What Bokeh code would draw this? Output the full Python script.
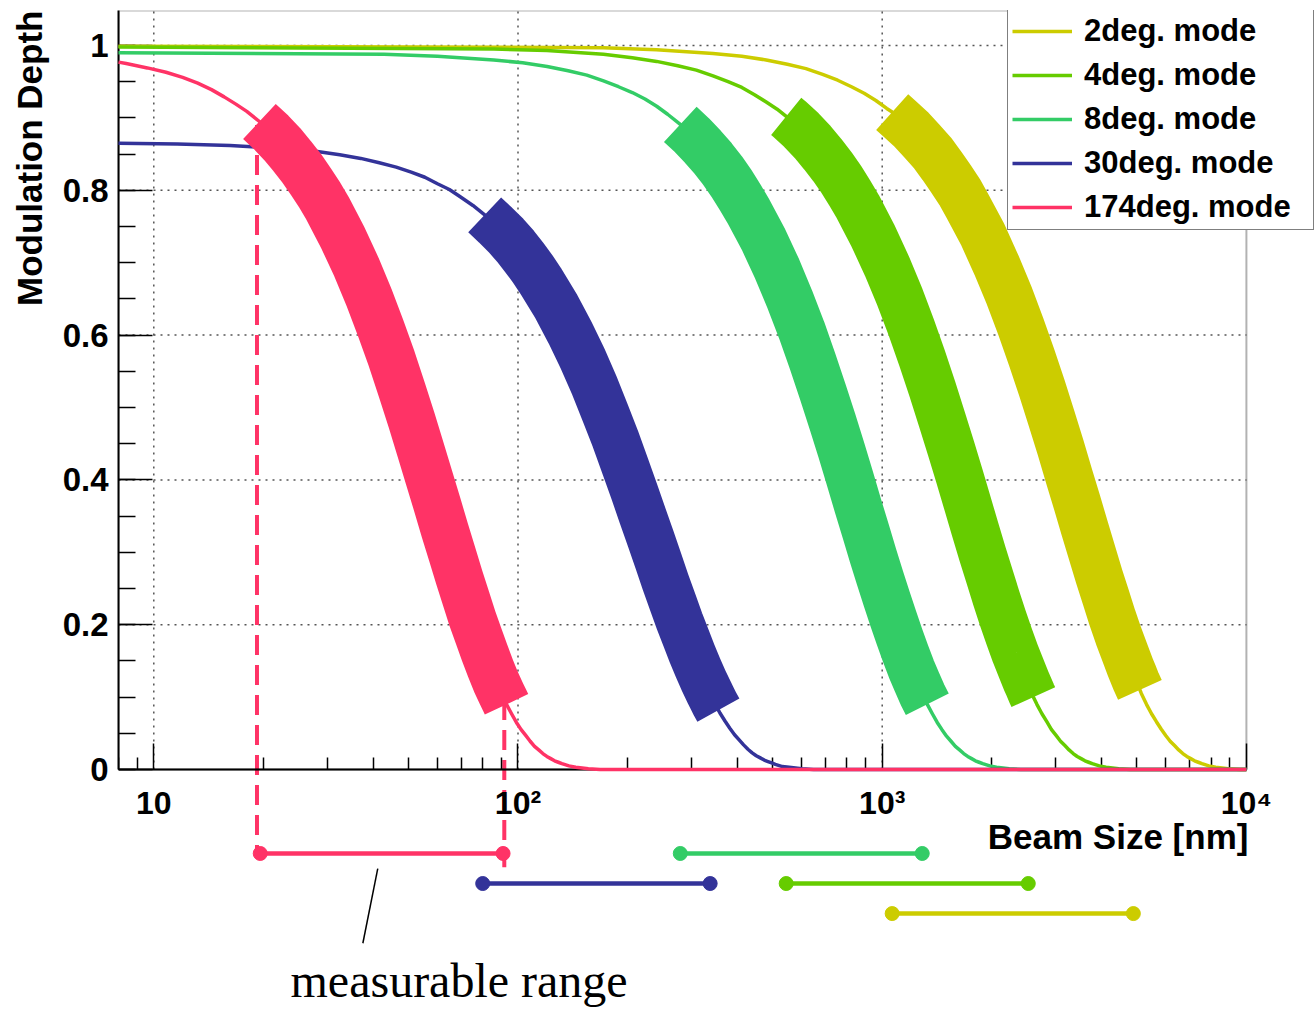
from bokeh.plotting import figure
from bokeh.models import (FixedTicker, CustomJSTickFormatter, BoxAnnotation,
                          Legend, LegendItem, Title)
from bokeh.core.properties import value
from bokeh.embed import file_html
from bokeh.resources import INLINE

# ---------------- data ----------------
mode_names = ["2deg. mode", "4deg. mode", "8deg. mode", "30deg. mode", "174deg. mode"]
mode_colors = ["#CCCC00", "#66CC00", "#33CC66", "#333399", "#FF3366"]

x_2deg = [8, 171.5, 240.1, 343.1, 411.7, 480.3, 548.9, 617.5, 686.1, 754.7, 823.3, 892, 960.6,
          1029, 1065, 1115, 1201, 1286, 1372, 1458, 1544, 1630, 1715, 1887, 2058, 2230, 2401,
          2573, 2744, 2916, 3088, 3259, 3431, 3602, 3774, 3945, 4117, 4288, 4460, 4631, 4803,
          4893, 4974, 5100, 5146, 5317, 5489, 5661, 5832, 6004, 6175, 6347, 6518, 6690, 6861,
          7033, 7204, 7376, 7547, 7890, 8233, 8577, 8920, 9606, 10000]
y_2deg = [0.999, 0.997, 0.994, 0.989, 0.985, 0.980, 0.974, 0.968, 0.960, 0.952, 0.943, 0.934,
          0.924, 0.913, 0.908, 0.899, 0.884, 0.868, 0.852, 0.834, 0.816, 0.798, 0.778, 0.739,
          0.697, 0.655, 0.612, 0.569, 0.527, 0.485, 0.445, 0.405, 0.368, 0.332, 0.298, 0.266,
          0.237, 0.209, 0.184, 0.162, 0.141, 0.131, 0.122, 0.110, 0.105, 0.090, 0.077, 0.066,
          0.056, 0.047, 0.039, 0.033, 0.027, 0.022, 0.018, 0.015, 0.012, 0.010, 0.008, 0.005,
          0.003, 0.002, 0.001, 0.0, 0.0]

x_4deg = [8, 85.8, 120.1, 171.6, 205.9, 240.2, 274.5, 308.8, 343.1, 377.4, 411.7, 446, 480.3,
          514.7, 545, 557.5, 600.4, 643.3, 686.2, 729.1, 772, 814.9, 857.8, 943.5, 1029, 1115,
          1201, 1287, 1372, 1458, 1544, 1630, 1716, 1801, 1887, 1973, 2059, 2144, 2230, 2316,
          2402, 2487, 2518, 2573, 2600, 2659, 2745, 2831, 2916, 3002, 3088, 3174, 3259, 3345,
          3431, 3517, 3603, 3688, 3774, 3946, 4117, 4289, 4460, 4803, 5147, 10000]
y_4deg = [0.998, 0.995, 0.993, 0.988, 0.983, 0.978, 0.972, 0.966, 0.958, 0.950, 0.942, 0.932,
          0.922, 0.912, 0.902, 0.898, 0.883, 0.867, 0.850, 0.833, 0.815, 0.796, 0.777, 0.737,
          0.696, 0.654, 0.611, 0.568, 0.526, 0.484, 0.444, 0.405, 0.367, 0.331, 0.297, 0.266,
          0.236, 0.209, 0.184, 0.161, 0.141, 0.122, 0.116, 0.105, 0.100, 0.090, 0.077, 0.066,
          0.055, 0.047, 0.039, 0.033, 0.027, 0.022, 0.018, 0.015, 0.012, 0.010, 0.008, 0.005,
          0.003, 0.002, 0.001, 0.0, 0.0, 0.0]

x_8deg = [8, 42.9, 60.1, 85.8, 103, 120.2, 137.3, 154.5, 171.7, 188.8, 206, 223.2, 240.3,
          257.5, 279, 300.4, 321.9, 343.3, 364.8, 386.2, 407.7, 429.2, 472.1, 515, 557.9, 600.8,
          643.7, 686.6, 729.6, 772.5, 815.4, 858.3, 901.2, 944.1, 987, 1030, 1073, 1116, 1159,
          1202, 1245, 1288, 1330, 1373, 1416, 1459, 1502, 1545, 1588, 1631, 1674, 1717, 1760,
          1802, 1845, 1888, 1974, 2060, 2146, 2232, 2403, 2575, 10000]
y_8deg = [0.990, 0.988, 0.985, 0.980, 0.976, 0.971, 0.965, 0.959, 0.951, 0.943, 0.935, 0.926,
          0.916, 0.905, 0.891, 0.876, 0.860, 0.844, 0.827, 0.809, 0.790, 0.771, 0.732, 0.691,
          0.649, 0.607, 0.564, 0.522, 0.481, 0.441, 0.402, 0.364, 0.329, 0.295, 0.264, 0.235,
          0.208, 0.183, 0.160, 0.139, 0.121, 0.104, 0.090, 0.077, 0.065, 0.055, 0.046, 0.039,
          0.032, 0.027, 0.022, 0.018, 0.015, 0.012, 0.010, 0.008, 0.005, 0.003, 0.002, 0.001,
          0.0, 0.0, 0.0]

x_30deg = [8, 11.6, 16.2, 23.1, 27.8, 32.4, 37, 41.6, 46.3, 50.9, 55.5, 60.1, 64.8, 69.4, 75.2,
           81, 86.7, 92.5, 98.3, 104.1, 109.9, 115.7, 127.2, 138.8, 150.3, 161.9, 173.5, 185,
           196.6, 208.2, 219.7, 231.3, 242.9, 254.4, 266, 277.6, 289.1, 300.7, 312.3, 323.8,
           335.4, 340, 347, 355, 358.5, 370.1, 381.6, 393.2, 404.8, 416.3, 427.9, 439.5, 451,
           462.6, 474.2, 485.7, 497.3, 508.9, 532, 555.1, 578.3, 601.4, 647.6, 693.9, 10000]
y_30deg = [0.865, 0.864, 0.862, 0.857, 0.854, 0.849, 0.844, 0.838, 0.832, 0.825, 0.818, 0.809,
           0.801, 0.791, 0.779, 0.766, 0.752, 0.738, 0.723, 0.707, 0.691, 0.674, 0.640, 0.604,
           0.568, 0.531, 0.493, 0.457, 0.420, 0.385, 0.351, 0.319, 0.288, 0.258, 0.231, 0.205,
           0.182, 0.160, 0.140, 0.122, 0.106, 0.100, 0.091, 0.082, 0.078, 0.067, 0.057, 0.048,
           0.041, 0.034, 0.028, 0.023, 0.019, 0.016, 0.013, 0.011, 0.009, 0.007, 0.004, 0.003,
           0.002, 0.001, 0.0, 0.0, 0.0]

x_174deg = [8, 8.4, 9.6, 10.8, 12, 13.2, 14.4, 15.6, 16.8, 18, 19.5, 21, 22.5, 24, 25.5, 27,
            28.5, 30, 33, 36, 39, 42, 45, 48, 51, 54, 57, 60, 63, 66, 69, 72, 75, 78, 81, 84,
            87, 90, 92, 93, 96, 99, 102, 105, 108, 111, 114, 117, 120, 123, 126, 129, 132, 138,
            144, 150, 156, 168, 180, 10000]
y_174deg = [0.977, 0.975, 0.969, 0.963, 0.956, 0.948, 0.939, 0.929, 0.919, 0.909, 0.895, 0.880,
            0.864, 0.847, 0.830, 0.812, 0.794, 0.775, 0.735, 0.694, 0.652, 0.609, 0.567, 0.524,
            0.483, 0.442, 0.403, 0.366, 0.330, 0.297, 0.265, 0.236, 0.208, 0.184, 0.161, 0.140,
            0.121, 0.105, 0.095, 0.090, 0.077, 0.065, 0.055, 0.047, 0.039, 0.032, 0.027, 0.022,
            0.018, 0.015, 0.012, 0.010, 0.008, 0.005, 0.003, 0.002, 0.001, 0.0, 0.0, 0.0]

curve_x = [x_2deg, x_4deg, x_8deg, x_30deg, x_174deg]
curve_y = [y_2deg, y_4deg, y_8deg, y_30deg, y_174deg]

# thick part of each curve (beam size, nm)
band_lo = [1065, 545, 279, 81, 19.5]
band_hi = [5100, 2600, 1330, 355, 93]

# measurable range bars drawn below the axis, and the row they sit on
range_lo = [1065, 545, 279, 80, 19.6]
range_hi = [4893, 2518, 1288, 337, 91]
range_row = [-0.199, -0.1575, -0.116, -0.1575, -0.116]

# dashed guide lines of the 174deg mode
dash_x = [19.2, 91.7]
dash_top = [0.89, 0.096]
dash_bottom = [-0.116, -0.135]

# annotation "measurable range"
note_text = ["measurable range"]
note_x = [68.9]
note_y = [-0.2915]
pointer_x = [41.2, 37.5]
pointer_y = [-0.137, -0.240]

x_tick_values = [10, 100, 1000, 10000]
x_tick_labels = ["10", "10\u00b2", "10\u00b3", "10\u2074"]
x_minor_ticks = [m * 10 ** d for d in range(0, 4) for m in range(2, 10) if 8 <= m * 10 ** d <= 10000]
y_tick_values = [0, 0.2, 0.4, 0.6, 0.8, 1.0]
y_tick_labels = ["0", "0.2", "0.4", "0.6", "0.8", "1"]
y_minor_ticks = [round(0.05 * k, 2) for k in range(0, 21)]
grid_x = [10, 100, 1000]
grid_y = [0.2, 0.4, 0.6, 0.8, 1.0]

x_title = "Beam Size [nm]"
y_title = "Modulation Depth"

# ---------------- figure ----------------
X_MIN, X_MAX = 8, 10000          # data area of the plot
X_VIEW_MAX = 15380               # room on the right for the legend
Y_MIN, Y_MAX = -0.3315, 1.0483
SANS = "Liberation Sans"

p = figure(width=1314, height=1009, x_axis_type="log",
           x_range=(X_MIN, X_VIEW_MAX), y_range=(Y_MIN, Y_MAX),
           output_backend="svg", toolbar_location=None, tools="",
           min_border_left=118, min_border_right=0, min_border_top=10, min_border_bottom=0)
p.outline_line_color = None
p.background_fill_color = "white"
p.border_fill_color = "white"

fmt_code = """
for (let i = 0; i < vals.length; i++) {
  if (Math.abs(vals[i] - tick) <= 1e-9 * Math.max(1, Math.abs(tick))) { return labs[i]; }
}
return "";
"""

# x axis drawn at y = 0
xa = p.xaxis[0]
xa.fixed_location = 0
xa.bounds = (X_MIN, X_MAX)
xa.ticker = FixedTicker(ticks=x_tick_values, minor_ticks=x_minor_ticks)
xa.formatter = CustomJSTickFormatter(args=dict(vals=x_tick_values, labs=x_tick_labels), code=fmt_code)
xa.axis_line_width = 2
xa.major_tick_in = 26
xa.major_tick_out = 0
xa.minor_tick_in = 12
xa.minor_tick_out = 0
xa.major_tick_line_width = 1.5
xa.minor_tick_line_width = 1.5
xa.major_label_text_font = SANS
xa.major_label_text_font_style = "bold"
xa.major_label_text_font_size = "32px"
xa.major_label_text_color = "black"
xa.major_label_standoff = 16

ya = p.yaxis[0]
ya.bounds = (0, Y_MAX)
ya.ticker = FixedTicker(ticks=y_tick_values, minor_ticks=y_minor_ticks)
ya.formatter = CustomJSTickFormatter(args=dict(vals=y_tick_values, labs=y_tick_labels), code=fmt_code)
ya.axis_line_width = 2
ya.major_tick_in = 34
ya.major_tick_out = 0
ya.minor_tick_in = 17
ya.minor_tick_out = 0
ya.major_tick_line_width = 1.5
ya.minor_tick_line_width = 1.5
ya.major_label_text_font = SANS
ya.major_label_text_font_style = "bold"
ya.major_label_text_font_size = "33px"
ya.major_label_text_color = "black"
ya.major_label_standoff = 10

p.xgrid.visible = False
p.ygrid.visible = False

# dotted grid inside the data area
p.segment(x0=grid_x, y0=[0] * len(grid_x), x1=grid_x, y1=[Y_MAX] * len(grid_x),
          line_color="#555555", line_dash="2 5", line_width=1.5, level="underlay")
p.segment(x0=[X_MIN] * len(grid_y), y0=grid_y, x1=[X_MAX] * len(grid_y), y1=grid_y,
          line_color="#555555", line_dash="2 5", line_width=1.5, level="underlay")

# plot frame (only around the data area)
p.add_layout(BoxAnnotation(bottom=0, right=X_MAX, fill_alpha=0, fill_color=None,
                           line_color="black", line_width=2, level="guide"))

# y title on the left, aligned to the top
p.add_layout(Title(text=y_title, align="right", vertical_align="top", text_font=SANS,
                   text_font_style="bold", text_font_size="35px", text_color="black",
                   standoff=18), "left")

# dashed guides (under the curves)
p.segment(x0=dash_x, y0=dash_top, x1=dash_x, y1=dash_bottom,
          line_color=mode_colors[4], line_width=4, line_dash="20 10")

# thin curves
curve_renderers = []
for c, xs, ys in zip(mode_colors, curve_x, curve_y):
    r = p.line(xs, ys, line_color=c, line_width=3.5, line_join="round", level="annotation")
    curve_renderers.append(r)

# thick bands over the measurable range
for c, xs, ys, lo, hi in zip(mode_colors, curve_x, curve_y, band_lo, band_hi):
    bx = [x for x in xs if lo <= x <= hi]
    by = [y for x, y in zip(xs, ys) if lo <= x <= hi]
    p.line(bx, by, line_color=c, line_width=48, line_cap="butt", line_join="round",
           level="annotation")

# range bars below the axis
p.segment(x0=range_lo, y0=range_row, x1=range_hi, y1=range_row,
          line_color=mode_colors, line_width=4.5)
p.scatter(x=range_lo + range_hi, y=range_row + range_row, color=mode_colors + mode_colors,
          size=14, marker="circle")

# x title
p.text(x=[X_MAX], y=[-0.0925], text=[x_title], text_font=value(SANS), text_font_style="bold",
       text_font_size="35px", text_align="right", text_baseline="middle",
       text_color="black", x_offset=2)

# note
p.line(pointer_x, pointer_y, line_color="black", line_width=1.5)
p.text(x=note_x, y=note_y, text=note_text, text_font=value("Liberation Serif"),
       text_font_size="48px", text_align="center", text_baseline="middle",
       text_color="black")

# legend
legend = Legend(items=[LegendItem(label=n, renderers=[r]) for n, r in zip(mode_names, curve_renderers)],
                location=(889, 779), orientation="vertical",
                label_text_font=SANS, label_text_font_style="bold", label_text_font_size="31px",
                label_text_color="black",
                glyph_width=60, glyph_height=36, label_height=36, label_width=225,
                label_standoff=12, padding=4, spacing=8, margin=0,
                border_line_color="black", border_line_width=1.5,
                background_fill_color="white", background_fill_alpha=1.0)
legend.level = "overlay"
p.add_layout(legend)

open("out.html", "w").write(file_html(p, INLINE))
